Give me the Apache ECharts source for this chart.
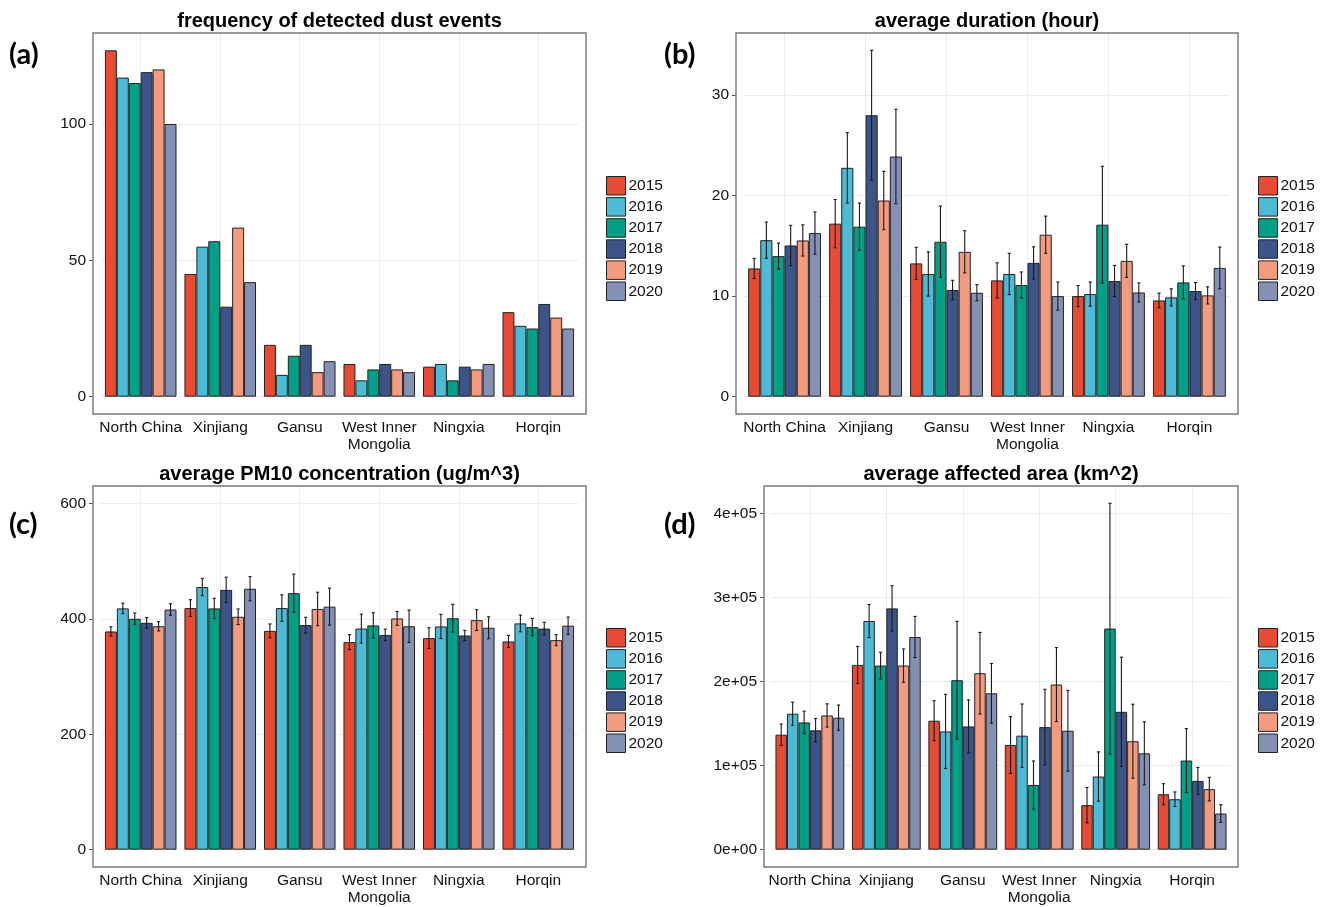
<!DOCTYPE html>
<html>
<head>
<meta charset="utf-8">
<script src="https://cdn.jsdelivr.net/npm/echarts@6/dist/echarts.min.js"></script>
<style>
  html, body { margin: 0; padding: 0; background: #fff; }
  #chart { width: 1334px; height: 907px; }
</style>
</head>
<body>
<div id="chart"></div>
<script>
const regions = ['North China', 'Xinjiang', 'Gansu', 'West Inner\nMongolia', 'Ningxia', 'Horqin'];
const years = ['2015', '2016', '2017', '2018', '2019', '2020'];

// one row per year, one column per region
const frequency = [
  [127, 45, 19, 12, 11, 31],
  [117, 55, 8, 6, 12, 26],
  [115, 57, 15, 10, 6, 25],
  [119, 33, 19, 12, 11, 34],
  [120, 62, 9, 10, 10, 29],
  [100, 42, 13, 9, 12, 25]
];

const duration = [
  [12.75, 17.2, 13.25, 11.56, 10.0, 9.57],
  [15.56, 22.75, 12.2, 12.2, 10.2, 9.87],
  [13.97, 16.9, 15.4, 11.1, 17.1, 11.36],
  [15.03, 27.98, 10.6, 13.3, 11.5, 10.5],
  [15.53, 19.5, 14.4, 16.1, 13.5, 10.07],
  [16.26, 23.87, 10.33, 10.0, 10.36, 12.8]
];
const durationErr = [
  [1.0, 2.4, 1.6, 1.75, 1.05, 0.73],
  [1.8, 3.5, 2.2, 2.05, 1.2, 0.85],
  [1.3, 2.35, 3.55, 1.3, 5.8, 1.65],
  [2.0, 6.45, 0.97, 1.6, 1.55, 0.85],
  [1.55, 2.9, 2.1, 1.85, 1.65, 0.85],
  [2.1, 4.7, 0.8, 1.4, 0.95, 2.07]
];

const pm10 = [
  [378, 418.5, 379, 359.6, 366.5, 360.7],
  [418, 455, 418.5, 383, 386.7, 392],
  [400, 418, 444.4, 388.5, 401, 385.6],
  [393, 450, 389, 372, 371, 383],
  [387, 403.5, 417, 400.6, 397.7, 363],
  [416, 452, 421, 387, 384.4, 388]
];
const pm10Err = [
  [8, 14.5, 12, 13, 18, 10.5],
  [9, 15, 23, 25, 21, 14.5],
  [10, 17.5, 33, 22, 24, 15],
  [9, 22, 13.5, 10, 9, 11],
  [8, 13.5, 29, 12, 18, 9.5],
  [10, 21, 32, 28, 19, 15]
];

const area = [
  [136800, 219800, 153400, 124500, 53000, 66000],
  [161700, 272000, 140700, 135600, 87000, 60000],
  [151400, 219000, 201600, 77000, 263000, 106000],
  [142000, 287000, 146600, 145800, 164000, 81800],
  [159700, 219000, 209900, 196400, 129000, 72000],
  [157000, 253000, 186000, 141500, 114600, 43000]
];
const areaErr = [
  [12700, 22000, 23700, 33800, 21000, 12500],
  [13700, 19700, 44000, 37700, 29300, 8700],
  [13400, 15800, 70000, 28500, 149000, 38000],
  [14000, 27000, 31600, 45000, 65000, 16000],
  [13800, 19800, 48500, 44000, 44000, 14000],
  [15000, 24500, 35500, 48000, 37500, 10500]
];

// labelled y breaks per panel
const freqTicks = [0, 50, 100];
const durationTicks = [0, 10, 20, 30];
const pm10Ticks = [0, 200, 400, 600];
const areaTicks = [0, 100000, 200000, 300000, 400000];

const palette = ['#E64B35', '#4DBBD5', '#00A087', '#3C5488', '#F39B7F', '#8491B4'];
const FONT = 'Liberation Sans';

// frame = ggplot panel border [x, y, w, h] in px
const panels = [
  {tag: '(a)', title: 'frequency of detected dust events', frame: [93, 33, 493, 381],
    values: frequency, errors: null, ticks: freqTicks, step: 25, legend: [606, 176], tagPos: [9, 55]},
  {tag: '(b)', title: 'average duration (hour)', frame: [736, 33, 502, 381],
    values: duration, errors: durationErr, ticks: durationTicks, step: 5, legend: [1258, 176], tagPos: [664, 55]},
  {tag: '(c)', title: 'average PM10 concentration (ug/m^3)', frame: [93, 486, 493, 381],
    values: pm10, errors: pm10Err, ticks: pm10Ticks, step: 100, limit: 600, legend: [606, 628], tagPos: [9, 525]},
  {tag: '(d)', title: 'average affected area (km^2)', frame: [764, 486, 474, 381],
    values: area, errors: areaErr, ticks: areaTicks, step: 50000, legend: [1258, 628], tagPos: [664, 525],
    fmt: (v) => (v === 0 ? '0e+00' : v / 1e5 + 'e+05')}
];

function upperOf(p) {
  if (p.limit) return p.limit;
  let m = 0;
  p.values.forEach((row, j) => row.forEach((v, i) => {
    m = Math.max(m, v + (p.errors ? p.errors[j][i] : 0));
  }));
  return m;
}

function errorBarItem(j) {
  return function (params, api) {
    const ci = api.value(0);
    const v = api.value(1);
    const e = api.value(2);
    const band = api.size([1, 0])[0];
    const x = api.coord([ci, v])[0] + (j - 2.5) * band * 0.15;
    const hi = api.coord([ci, v + e])[1];
    const lo = api.coord([ci, v - e])[1];
    const cap = 1.6;
    const style = {stroke: '#1a1a1a', lineWidth: 1.1};
    return {
      type: 'group',
      children: [
        {type: 'line', shape: {x1: x, y1: hi, x2: x, y2: lo}, style: style},
        {type: 'line', shape: {x1: x - cap, y1: hi, x2: x + cap, y2: hi}, style: style},
        {type: 'line', shape: {x1: x - cap, y1: lo, x2: x + cap, y2: lo}, style: style}
      ]
    };
  };
}

const grid = [], xAxis = [], yAxis = [], series = [], legend = [], graphic = [];

panels.forEach((p, k) => {
  const [fx, fy, fw, fh] = p.frame;
  const pad = fw * 0.1 / 6.2; // ggplot discrete expansion
  const below = fh * 0.05 / 1.1; // 5% expansion under zero
  const top = upperOf(p) * 1.05;
  const fmt = p.fmt || ((v) => String(v));

  grid.push({left: fx + pad, top: fy, width: fw - 2 * pad, height: fh - below, outerBoundsMode: 'none'});

  xAxis.push({
    type: 'category', gridIndex: k, data: regions, offset: below,
    axisLine: {show: false},
    axisTick: {alignWithLabel: true, interval: 0, length: 4, lineStyle: {color: '#555'}},
    axisLabel: {interval: 0, color: '#111', fontSize: 15.5, fontFamily: FONT, margin: 5, lineHeight: 17},
    splitLine: {show: true, interval: 0, alignWithLabel: true, lineStyle: {color: '#EBEBEB', width: 1}}
  });

  yAxis.push({
    type: 'value', gridIndex: k, min: 0, max: top, interval: p.step,
    offset: pad,
    axisLine: {show: false},
    axisTick: {show: true, length: 4, customValues: p.ticks, lineStyle: {color: '#555'}},
    axisLabel: {customValues: p.ticks, color: '#111', fontSize: 15.5, fontFamily: FONT, margin: 7, formatter: fmt},
    splitLine: {lineStyle: {color: '#EBEBEB', width: 1}}
  });

  years.forEach((y, j) => {
    series.push({
      type: 'bar', name: y, xAxisIndex: k, yAxisIndex: k,
      data: p.values[j], barGap: '0%', barCategoryGap: '10%',
      itemStyle: {color: palette[j], borderColor: '#222', borderWidth: 1},
      emphasis: {disabled: true}
    });
  });

  if (p.errors) {
    years.forEach((y, j) => {
      series.push({
        type: 'custom', name: 'err' + y, xAxisIndex: k, yAxisIndex: k, z: 3,
        renderItem: errorBarItem(j),
        data: p.values[j].map((v, i) => [i, v, p.errors[j][i]])
      });
    });
  }

  legend.push({
    data: years, orient: 'vertical', left: p.legend[0], top: p.legend[1], padding: 0,
    icon: 'rect', itemWidth: 19, itemHeight: 18.5, itemGap: 1.6, selectedMode: false,
    itemStyle: {borderColor: '#222', borderWidth: 1},
    textStyle: {fontSize: 15.5, fontFamily: FONT, color: '#111', padding: [0, 0, 0, -2]}
  });

  graphic.push({
    type: 'rect', silent: true, z: 10,
    shape: {x: fx, y: fy, width: fw, height: fh},
    style: {fill: null, stroke: '#777', lineWidth: 1.4}
  });
  graphic.push({
    type: 'text', silent: true, x: fx + fw / 2, y: fy - 12,
    style: {text: p.title, fill: '#000', font: 'bold 20px "' + FONT + '"',
      textAlign: 'center', textVerticalAlign: 'middle'}
  });
  graphic.push({
    type: 'text', silent: true, x: p.tagPos[0], y: p.tagPos[1],
    style: {text: p.tag, fill: '#000', font: 'bold 29px Lato',
      textAlign: 'left', textVerticalAlign: 'middle'}
  });
});

const chart = echarts.init(document.getElementById('chart'));
chart.setOption({
  animation: false,
  backgroundColor: '#fff',
  textStyle: {fontFamily: FONT},
  grid: grid,
  xAxis: xAxis,
  yAxis: yAxis,
  legend: legend,
  series: series,
  graphic: graphic
});
</script>
</body>
</html>
